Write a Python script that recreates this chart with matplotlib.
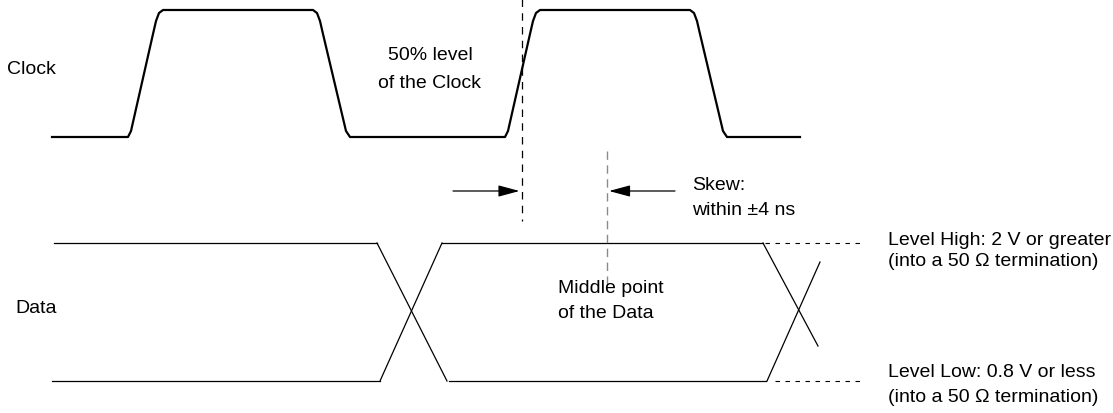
import matplotlib
matplotlib.use( "Agg" )
import matplotlib.pyplot as plt

# Clock waveform vertices (x, y in picture units, y grows downward).

clock_x = [ 52, 128, 131, 153, 156, 159, 163, 313, 317, 320, 323, 346, 350,
            505, 508, 530, 533, 536, 540, 690, 694, 697, 700, 723, 727, 800 ]
clock_y = [ 138, 138, 132, 35, 22, 14, 11, 11, 14, 22, 35, 132, 138,
            138, 132, 35, 22, 14, 11, 11, 14, 22, 35, 132, 138, 138 ]

# Data waveform segments.

data_high = 244
data_low = 382

data_high_x = [ [ 54, 377 ], [ 442, 763 ] ]
data_low_x = [ [ 52, 380 ], [ 449, 766 ] ]

data_edges = [
    ( [ 377, 447 ], [ data_high, data_low ] ),
    ( [ 380, 442 ], [ data_low, data_high ] ),
    ( [ 763, 818 ], [ data_high, 347 ] ),
    ( [ 767, 820 ], [ data_low, 263 ] ),
]

level_ext_x = [ [ 765, 863 ], [ 775, 863 ] ]

# Reference markers.

clock_mid_x = 521.5
data_mid_x = 607
skew_y = 192

labels = [
    ( 7, 74, "Clock", "left" ),
    ( 15, 313, "Data", "left" ),
    ( 430, 60, "50% level", "center" ),
    ( 430, 88, "of the Clock", "center" ),
    ( 692, 190, "Skew:", "left" ),
    ( 692, 215, "within \u00b14 ns", "left" ),
    ( 558, 293, "Middle point", "left" ),
    ( 558, 318, "of the Data", "left" ),
    ( 888, 245, "Level High: 2 V or greater", "left" ),
    ( 888, 266, "(into a 50 \u03a9 termination)", "left" ),
    ( 888, 377, "Level Low: 0.8 V or less", "left" ),
    ( 888, 402, "(into a 50 \u03a9 termination)", "left" ),
]

fig = plt.figure( figsize = ( 11.13, 4.14 ), dpi = 100 )
ax = fig.add_axes( [ 0, 0, 1, 1 ] )
ax.set_xlim( 0, 1113 )
ax.set_ylim( 414, 0 )
ax.axis( "off" )

# Clock.

ax.plot( clock_x, clock_y, color = "black", linewidth = 1.6, solid_joinstyle = "round" )

# Data.

for xs in data_high_x:
    ax.plot( xs, [ data_high, data_high ], color = "black", linewidth = 0.9 )

for xs in data_low_x:
    ax.plot( xs, [ data_low, data_low ], color = "black", linewidth = 0.9 )

for xs, ys in data_edges:
    ax.plot( xs, ys, color = "black", linewidth = 0.9 )

ax.plot( level_ext_x[ 0 ], [ data_high, data_high ], color = "black", linewidth = 0.8, linestyle = ( 0, ( 4, 5 ) ) )
ax.plot( level_ext_x[ 1 ], [ data_low, data_low ], color = "black", linewidth = 0.8, linestyle = ( 0, ( 4, 5 ) ) )

# Vertical reference lines.

ax.plot( [ clock_mid_x, clock_mid_x ], [ 0, 222 ], color = "black", linewidth = 0.9, linestyle = ( 0, ( 6, 5 ) ) )
ax.plot( [ data_mid_x, data_mid_x ], [ 152, 290 ], color = "#8a8a8a", linewidth = 1.0, linestyle = ( 0, ( 6, 4 ) ) )

# Skew arrows.

arrow = dict( arrowstyle = "-|>,head_length=1.3,head_width=0.35", color = "black", linewidth = 0.9, shrinkA = 0, shrinkB = 0 )

ax.annotate( "", xy = ( clock_mid_x - 2, skew_y ), xytext = ( 453, skew_y ), arrowprops = arrow )
ax.annotate( "", xy = ( data_mid_x + 2, skew_y ), xytext = ( 675, skew_y ), arrowprops = arrow )

# Labels.

for x, y, s, ha in labels:
    ax.text( x, y, s, ha = ha, va = "baseline", fontsize = 14, family = [ "Liberation Sans", "DejaVu Sans" ] )

fig.savefig( "out.png", dpi = 100 )
